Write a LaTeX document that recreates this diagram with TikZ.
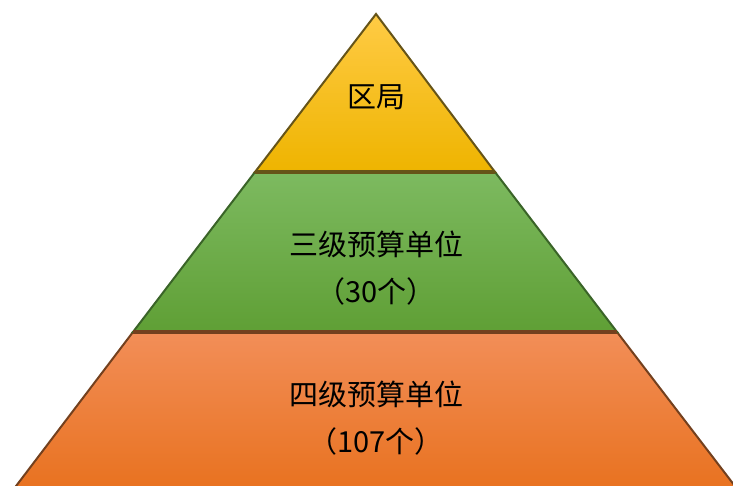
\documentclass[tikz,border=0pt]{standalone}
\usepackage{fontspec}
\newfontfamily\cjk{Noto Sans CJK SC}
\definecolor{yelTop}{HTML}{FFCB45}
\definecolor{yelBot}{HTML}{EEB400}
\definecolor{yelLine}{HTML}{665418}
\definecolor{grnTop}{HTML}{7DBA60}
\definecolor{grnBot}{HTML}{5F9F35}
\definecolor{grnLine}{HTML}{3A6428}
\definecolor{orgTop}{HTML}{F28E58}
\definecolor{orgBot}{HTML}{E8711E}
\definecolor{orgLine}{HTML}{73401E}
\tikzset{
  tier/.style={line width=2pt, line join=miter},
  label/.style={font=\cjk\fontsize{29}{47}\selectfont, align=center, text=black}
}
\begin{document}
\begin{tikzpicture}[x=1pt,y=-1pt]
\useasboundingbox (0,0) rectangle (733,486);
\clip (0,0) rectangle (733,486);
% corners of the pyramid
\coordinate (apex) at (376,14);
\coordinate (l1) at (255,172);
\coordinate (r1) at (495,172);
\coordinate (l2) at (133,332);
\coordinate (r2) at (617,332);
\coordinate (l3) at (10,494);
\coordinate (r3) at (741,494);
% bottom tier
\path [tier, top color=orgTop, bottom color=orgBot, draw=orgLine] (l2) -- (r2) -- (r3) -- (l3) -- cycle;
% middle tier
\path [tier, top color=grnTop, bottom color=grnBot, draw=grnLine] (l1) -- (r1) -- (r2) -- (l2) -- cycle;
\draw [orgLine, line width=3.5pt] (l2) -- (r2);
% top tier
\path [tier, top color=yelTop, bottom color=yelBot, draw=yelLine] (apex) -- (r1) -- (l1) -- cycle;
\draw [yelLine, line width=3.5pt] (l1) -- (r1);
% texts
\node [label] (qj) at (376,97) {区局};
\node [label] (sanji) at (376,268) {三级预算单位\\（30个）};
\node [label] (siji) at (376,418) {四级预算单位\\（107个）};
\end{tikzpicture}
\end{document}
